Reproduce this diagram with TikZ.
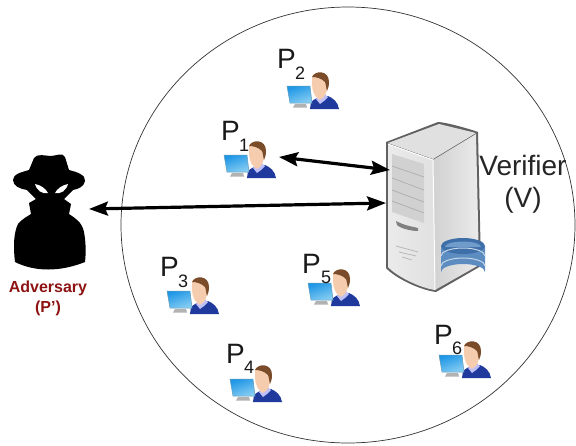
\documentclass[tikz,border=0pt]{standalone}
\usepackage{fontspec}
\setmainfont{Liberation Sans}
\usetikzlibrary{arrows.meta}
\definecolor{shirt}{HTML}{1F3A9C}
\definecolor{skin}{HTML}{F5CDAE}
\definecolor{hair}{HTML}{7A4C2A}
\definecolor{advred}{HTML}{8E1414}
\definecolor{monA}{HTML}{1E96E6}
\definecolor{monB}{HTML}{86CDF2}
\definecolor{dbtop}{HTML}{6F9CCB}
\definecolor{dbside}{HTML}{5C8CC0}
\definecolor{dbdark}{HTML}{3F6FA8}
\tikzset{
  x=1pt,y=-1pt,
  link/.style={line width=3.2pt,black,{Stealth[length=19pt,width=14pt,inset=3pt]}-{Stealth[length=19pt,width=14pt,inset=3pt]}},
  plabel/.style={font=\fontsize{28}{28}\selectfont,inner sep=0pt,anchor=base west,text=black!90},
  psub/.style={font=\fontsize{18}{18}\selectfont,inner sep=0pt,anchor=base west,text=black!90},
  vlabel/.style={font=\fontsize{28}{32}\selectfont,inner sep=0pt,align=center,text=black!85},
  advlabel/.style={font=\bfseries\fontsize{16}{20}\selectfont,inner sep=0pt,align=center,text=advred},
  user/.pic={
    % body
    \fill[shirt] (23,23) -- (24,16) .. controls (27,13) and (31,12) .. (33,10) -- (41,10) .. controls (46,12) and (51,16) .. (52,23) -- cycle;
    \fill[black!10!blue!25!white] (29,13) -- (33,18) -- (37,15) -- (41,11) -- (38,8) -- (32,9) -- cycle;
    % head
    \fill[skin] (25,-8) .. controls (25,-15) and (41,-15) .. (41,-5) .. controls (41,2) and (39,8) .. (37,11) -- (33,14) .. controls (28,12) and (25,5) .. (25,-2) -- cycle;
    % hair
    \fill[hair] (25,-9) .. controls (28,-16) and (42,-16) .. (42,-4) .. controls (42,0) and (41,3) .. (40,5) .. controls (39,2) and (39,-2) .. (38,-4) .. controls (34,-8) and (29,-9) .. (25,-9) -- cycle;
    % monitor
    \shade[left color=monA,right color=monB,shading angle=20] (0,0) -- (23,0) -- (25,17) -- (3,17) -- cycle;
    \draw[black!25!monB,line width=.5pt] (0,0) -- (23,0) -- (25,17) -- (3,17) -- cycle;
    \fill[black!30] (8,18) -- (19,18) -- (20,21.5) -- (6,21.5) -- cycle;
  }
}
\begin{document}
\begin{tikzpicture}
\useasboundingbox (0,0) rectangle (576,445);
\fill[white] (0,0) rectangle (576,445);

% enclosing ellipse
\draw[line width=.7pt,black!80] (348,225) ellipse [x radius=227,y radius=218];

% users
\pic at (287,86) {user};
\pic at (224,155) {user};
\pic at (167,291) {user};
\pic at (308,283) {user};
\pic at (230,379) {user};
\pic at (439,355) {user};

% labels
\node[plabel] (P2) at (277,68) {P};
\node[psub] (s2) at (295,79) {2};
\node[plabel] (P1) at (221,140) {P};
\node[psub] (s1) at (239,151) {1};
\node[plabel] (P3) at (160,276) {P};
\node[psub] (s3) at (178,287) {3};
\node[plabel] (P5) at (302,273) {P};
\node[psub] (s5) at (321,283) {5};
\node[plabel] (P4) at (226,363) {P};
\node[psub] (s4) at (244,373) {4};
\node[plabel] (P6) at (434,344) {P};
\node[psub] (s6) at (452,354) {6};

% server
\fill[black!62,line join=round] (386,142) -- (438,122) .. controls (445,122) and (470,129) .. (478,132) -- (481,266) -- (436,292) .. controls (420,290) and (395,278) .. (386,268) -- cycle;
\fill[black!12] (388,143) -- (439,124) -- (476,133) -- (433,159) -- cycle;
\shade[left color=black!8,right color=black!12] (388,144) -- (433,160) -- (435,290) .. controls (420,288) and (396,276) .. (388,267) -- cycle;
\shade[left color=black!18,right color=black!8] (433,160) -- (476,134) -- (479,265) -- (435,290) -- cycle;
\draw[white,line width=1pt] (388,144) -- (433,160) -- (435,290);
\fill[black!18] (392,154) -- (424,164) -- (424,223) -- (392,212) -- cycle;
\draw[black!32,line width=.7pt] (392,166) -- (424,177) (392,178) -- (424,190) (392,190) -- (424,202) (392,201) -- (424,213);
\fill[black!50] (396,221) .. controls (405,226) and (415,227) .. (418,228) -- (418,231) .. controls (410,231) and (400,228) .. (397,225) -- cycle;
\draw[black!28,line width=.8pt] (396,246) -- (418,252) (399,252) -- (416,256) (402,257) -- (412,260);

% database
\fill[dbside] (441,246) -- (441,272) arc[start angle=180,end angle=360,x radius=22,y radius=8] -- (485,246) -- cycle;
\fill[dbdark] (441,246) arc[start angle=180,end angle=540,x radius=22,y radius=8];
\fill[dbtop] (445,247) arc[start angle=180,end angle=360,x radius=18,y radius=5.5] -- cycle;
\draw[white!65!dbside,line width=1pt] (441,256) arc[start angle=180,end angle=360,x radius=22,y radius=8];
\draw[white!65!dbside,line width=1pt] (441,266) arc[start angle=180,end angle=360,x radius=22,y radius=8];

% adversary
\fill[black] (15,262) .. controls (13,245) and (14,232) .. (18,224) .. controls (22,219) and (28,216) .. (31,214) -- (29,203) -- (36,199) -- (27,190) .. controls (20,189) and (13,186) .. (13,180) .. controls (13,174) and (22,172) .. (29,170) -- (34,158) .. controls (37,153) and (46,156) .. (51,156) .. controls (55,156) and (63,152) .. (65,157) -- (69,170) .. controls (77,172) and (86,175) .. (85,181) .. controls (84,187) and (78,189) .. (73,190) -- (64,199) -- (71,204) -- (69,214) .. controls (75,218) and (82,222) .. (84,232) .. controls (86,243) and (86,253) .. (85,262) .. controls (60,272) and (35,272) .. (15,262) -- cycle;
\fill[white] (35,184) .. controls (41,185) and (46,189) .. (48,193) .. controls (42,194) and (37,191) .. (35,184) -- cycle;
\fill[white] (68,184) .. controls (62,185) and (57,189) .. (55,193) .. controls (61,194) and (66,191) .. (68,184) -- cycle;

% named ends of the connectors
\coordinate (advEnd) at (89,209);
\coordinate (srvA) at (386,203);
\coordinate (p1End) at (279,157);
\coordinate (srvB) at (390,170);
\draw[link] (p1End) -- (srvB);
\draw[link] (advEnd) -- (srvA);

% texts
\node[vlabel] (ver) at (523,184) {Verifier\\(V)};
\node[advlabel] (adv) at (48,298) {Adversary\\(P')};
\end{tikzpicture}
\end{document}
